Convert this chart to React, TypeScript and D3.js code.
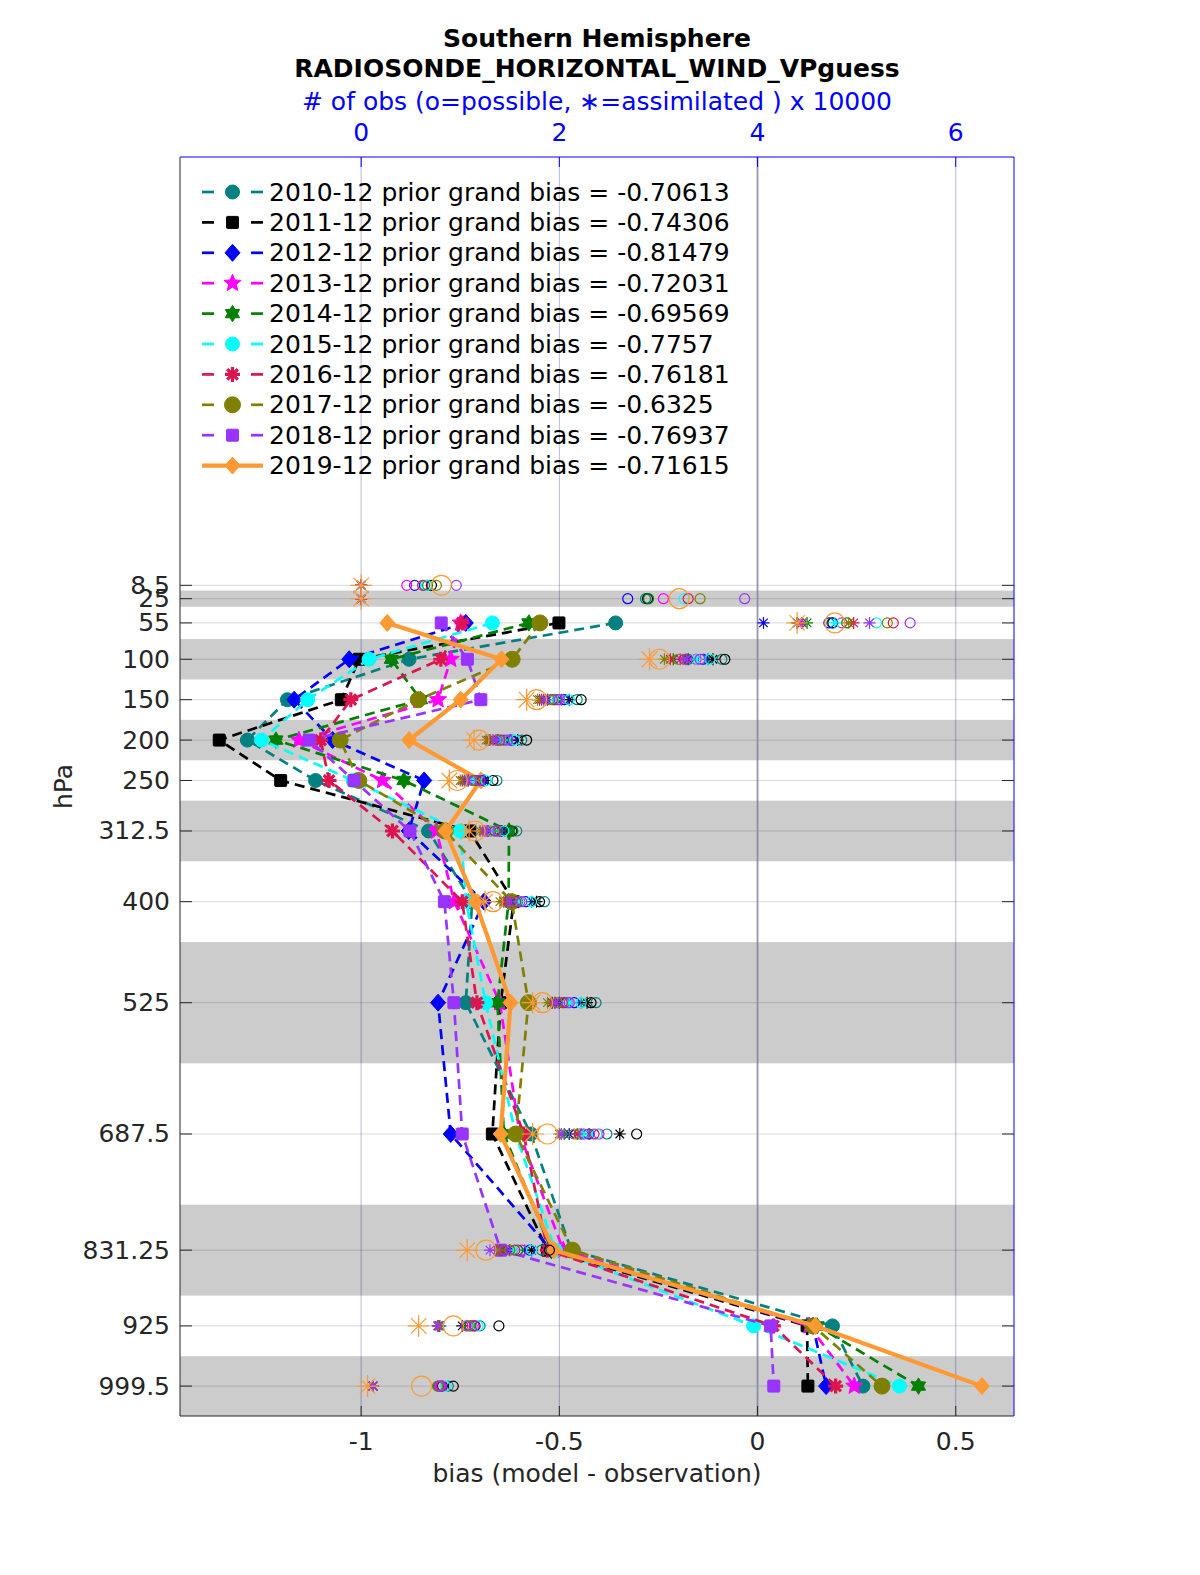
import * as d3 from "d3";

// pressure levels (hPa) and layer edges
const levels = [8.5, 25, 55, 100, 150, 200, 250, 312.5, 400, 525, 687.5, 831.25, 925, 999.5];
const levelLabels = ["8.5", "25", "55", "100", "150", "200", "250", "312.5", "400", "525", "687.5", "831.25", "925", "999.5"];
const layerEdges = [2, 15, 35, 75, 125, 175, 225, 275, 350, 450, 600, 775, 887.5, 962.5, 1036.5];
const biasTicks = [-1, -0.5, 0, 0.5];
const obsTicks = [0, 2, 4, 6];

const years = ["2010-12", "2011-12", "2012-12", "2013-12", "2014-12", "2015-12", "2016-12", "2017-12", "2018-12", "2019-12"];
const grandBias = ["-0.70613", "-0.74306", "-0.81479", "-0.72031", "-0.69569", "-0.7757", "-0.76181", "-0.6325", "-0.76937", "-0.71615"];
const colors = ["#008080", "#000000", "#0000ff", "#ff00ff", "#008000", "#00ffff", "#dc1450", "#808000", "#9933ff", "#ff9933"];
const markers = ["circle", "square", "diamond", "pentagram", "hexagram", "circle", "asterisk", "bigcircle", "square", "diamond"];

// bias (model - observation) per level; NaN where nothing assimilated
const bias2010 = [NaN, NaN, -0.358, -0.879, -1.186, -1.287, -1.115, -0.83, -0.72, -0.736, -0.572, -0.47, 0.189, 0.266];
const bias2011 = [NaN, NaN, -0.501, -1.005, -1.05, -1.358, -1.203, -0.726, -0.615, -0.648, -0.669, -0.53, 0.125, 0.127];
const bias2012 = [NaN, NaN, -0.736, -1.03, -1.169, -1.072, -0.841, -0.88, -0.69, -0.806, -0.774, -0.52, 0.14, 0.173];
const bias2013 = [NaN, NaN, -0.749, -0.774, -0.806, -1.157, -0.946, -0.81, -0.765, -0.65, -0.6, -0.49, 0.13, 0.244];
const bias2014 = [NaN, NaN, -0.577, -0.924, -0.85, -1.215, -0.892, -0.627, -0.628, -0.656, -0.64, -0.52, 0.15, 0.406];
const bias2015 = [NaN, NaN, -0.669, -0.98, -1.135, -1.251, -1.02, -0.75, -0.735, -0.686, -0.61, -0.51, -0.01, 0.358];
const bias2016 = [NaN, NaN, -0.745, -0.799, -1.026, -1.102, -1.081, -0.921, -0.745, -0.708, -0.59, -0.53, 0.04, 0.197];
const bias2017 = [NaN, NaN, -0.549, -0.619, -0.856, -1.053, -1.006, -0.788, -0.62, -0.578, -0.61, -0.467, 0.14, 0.314];
const bias2018 = [NaN, NaN, -0.798, -0.732, -0.698, -1.131, -1.018, -0.877, -0.79, -0.766, -0.745, -0.648, 0.033, 0.041];
const bias2019 = [NaN, NaN, -0.934, -0.646, -0.749, -0.879, -0.698, -0.787, -0.712, -0.623, -0.648, -0.514, 0.146, 0.566];

// # of obs possible (x 10000)
const poss2010 = [0.64, 2.87, 4.75, 3.64, 2.18, 1.62, 1.37, 1.57, 1.85, 2.37, 2.48, 1.82, 1.2, 0.88];
const poss2011 = [0.71, 2.89, 4.76, 3.67, 2.22, 1.67, 1.33, 1.52, 1.8, 2.32, 2.78, 1.9, 1.39, 0.93];
const poss2012 = [0.54, 2.69, 4.72, 3.45, 2.05, 1.52, 1.22, 1.4, 1.66, 2.15, 2.3, 1.7, 1.15, 0.82];
const poss2013 = [0.46, 3.05, 4.85, 3.38, 1.98, 1.45, 1.18, 1.36, 1.6, 2.08, 2.4, 1.62, 1.12, 0.8];
const poss2014 = [0.67, 2.9, 4.9, 3.3, 1.95, 1.42, 1.16, 1.53, 1.58, 2.05, 2.2, 1.58, 1.1, 0.78];
const poss2015 = [0.66, 3.26, 5.2, 3.52, 2.1, 1.55, 1.26, 1.44, 1.72, 2.22, 2.38, 1.72, 1.18, 0.85];
const poss2016 = [0.62, 3.3, 5.37, 3.26, 1.93, 1.4, 1.14, 1.35, 1.56, 2.03, 2.35, 1.55, 1.14, 0.81];
const poss2017 = [0.76, 3.42, 5.31, 3.2, 1.9, 1.37, 1.12, 1.3, 1.52, 1.98, 2.15, 1.5, 1.08, 0.77];
const poss2018 = [0.96, 3.87, 5.54, 3.42, 2.0, 1.48, 1.2, 1.38, 1.62, 2.1, 2.25, 1.45, 1.06, 0.79];
const poss2019 = [0.81, 3.21, 4.78, 3.01, 1.77, 1.19, 0.97, 1.15, 1.33, 1.83, 1.88, 1.26, 0.93, 0.61];

// # of obs assimilated (x 10000)
const assim2010 = [0, 0, 4.45, 3.5, 2.02, 1.5, 1.25, 1.45, 1.72, 2.22, 2.3, 1.65, 0.8, 0.12];
const assim2011 = [0, 0, 4.4, 3.55, 2.1, 1.58, 1.24, 1.42, 1.77, 2.28, 2.61, 1.72, 1.02, 0.12];
const assim2012 = [0, 0, 4.06, 3.3, 1.88, 1.38, 1.08, 1.28, 1.52, 2.0, 2.1, 1.5, 0.79, 0.12];
const assim2013 = [0, 0, 4.45, 3.22, 1.84, 1.33, 1.06, 1.24, 1.48, 1.95, 2.22, 1.45, 0.78, 0.12];
const assim2014 = [0, 0, 4.5, 3.15, 1.82, 1.3, 1.04, 1.4, 1.46, 1.93, 2.05, 1.42, 0.78, 0.12];
const assim2015 = [0, 0, 4.78, 3.38, 1.95, 1.42, 1.13, 1.32, 1.6, 2.1, 2.24, 1.55, 0.8, 0.12];
const assim2016 = [0, 0, 4.97, 3.12, 1.8, 1.28, 1.02, 1.23, 1.44, 1.92, 2.18, 1.4, 0.79, 0.12];
const assim2017 = [0, 0, 4.92, 3.06, 1.78, 1.26, 1.0, 1.2, 1.4, 1.88, 2.0, 1.38, 0.78, 0.12];
const assim2018 = [0, 0, 5.13, 3.28, 1.86, 1.36, 1.08, 1.26, 1.5, 1.96, 2.02, 1.3, 0.77, 0.12];
const assim2019 = [0, 0, 4.4, 2.91, 1.67, 1.14, 0.89, 1.09, 1.25, 1.73, 1.73, 1.07, 0.58, 0.065];

const biasAll = [bias2010, bias2011, bias2012, bias2013, bias2014, bias2015, bias2016, bias2017, bias2018, bias2019];
const possAll = [poss2010, poss2011, poss2012, poss2013, poss2014, poss2015, poss2016, poss2017, poss2018, poss2019];
const assimAll = [assim2010, assim2011, assim2012, assim2013, assim2014, assim2015, assim2016, assim2017, assim2018, assim2019];

const W = 1200;
const H = 1575;
const left = 180, right = 1014, top = 157, bottom = 1416;
const FONT = "DejaVu Sans, Liberation Sans, sans-serif";
const FS = 25;
const TICK = "#262626";

const x = d3.scaleLinear().domain([-1.457, 0.647]).range([left, right]);
const xObs = d3.scaleLinear().domain([4 * (-1.457 + 1), 4 * (0.647 + 1)]).range([left, right]);
const y = d3.scaleLinear().domain([-521.6, 1036.5]).range([top, bottom]);

function starPath(n: number, ro: number, ri: number) {
  const pts: string[] = [];
  for (let i = 0; i < 2 * n; i++) {
    const a = -Math.PI / 2 + (i * Math.PI) / n;
    const r = i % 2 ? ri : ro;
    pts.push(`${(r * Math.cos(a)).toFixed(2)},${(r * Math.sin(a)).toFixed(2)}`);
  }
  return "M" + pts.join("L") + "Z";
}

function asteriskPath(r: number) {
  const d = r * Math.SQRT1_2;
  return `M${-r},0L${r},0M0,${-r}L0,${r}M${-d},${-d}L${d},${d}M${-d},${d}L${d},${-d}`;
}

function Marker({ kind, color, cx, cy }: { kind: string; color: string; cx: number; cy: number }) {
  const t = `translate(${cx},${cy})`;
  if (kind === "circle") return <circle cx={cx} cy={cy} r={7} fill={color} stroke={color} />;
  if (kind === "bigcircle") return <circle cx={cx} cy={cy} r={8} fill={color} stroke={color} />;
  if (kind === "square") return <rect x={cx - 6} y={cy - 6} width={12} height={12} rx={1} fill={color} stroke={color} />;
  if (kind === "diamond")
    return <path transform={t} d="M0,-8.5L7.5,0L0,8.5L-7.5,0Z" fill={color} stroke={color} />;
  if (kind === "pentagram") return <path transform={t} d={starPath(5, 9, 4)} fill={color} stroke={color} />;
  if (kind === "hexagram") return <path transform={t} d={starPath(6, 8.2, 4.9)} fill={color} stroke={color} />;
  return <path transform={t} d={asteriskPath(7.5)} fill="none" stroke={color} strokeWidth={3.2} />;
}

export default function App() {
  const line = d3
    .line<[number, number]>()
    .defined((d) => !isNaN(d[0]))
    .x((d) => x(d[0]))
    .y((d) => y(d[1]));

  const plotH = bottom - top;

  return (
    <svg
      width={W}
      height={H}
      style={{ position: "absolute", left: 0, top: 0, background: "#fff" }}
      fontFamily={FONT}
    >
      <rect x={0} y={0} width={W} height={H} fill="#fff" />
      {/* alternating layer shading */}
      {levels.map((lv, i) =>
        i % 2 === 1 ? (
          <rect
            key={"band" + i}
            x={left}
            width={right - left}
            y={y(layerEdges[i])}
            height={y(layerEdges[i + 1]) - y(layerEdges[i])}
            fill="#cccccc"
          />
        ) : null
      )}
      {/* grid */}
      {levels.map((lv, i) => (
        <line key={"hg" + i} x1={left} x2={right} y1={y(lv)} y2={y(lv)} stroke="#000" strokeOpacity={0.15} />
      ))}
      {biasTicks.map((t) => (
        <g key={"vg" + t}>
          <line x1={x(t)} x2={x(t)} y1={top} y2={bottom} stroke="#000" strokeOpacity={0.15} />
          <line x1={x(t)} x2={x(t)} y1={top} y2={bottom} stroke="#0000ff" strokeOpacity={0.15} />
        </g>
      ))}
      <line x1={x(0)} x2={x(0)} y1={top} y2={bottom} stroke="#8888a0" strokeOpacity={0.7} strokeWidth={2} />

      {/* bias profiles */}
      {biasAll.map((b, k) => {
        const pts: [number, number][] = b.map((v, i) => [v, levels[i]]);
        return (
          <g key={"s" + k}>
            <path
              d={line(pts) || ""}
              fill="none"
              stroke={colors[k]}
              strokeWidth={k === 9 ? 4.2 : 2.7}
              strokeDasharray={k === 9 ? undefined : "10,6"}
            />
            {pts
              .filter((p) => !isNaN(p[0]))
              .map((p, i) => (
                <Marker key={i} kind={markers[k]} color={colors[k]} cx={x(p[0])} cy={y(p[1])} />
              ))}
          </g>
        );
      })}

      {/* obs counts: o = possible, * = assimilated */}
      {possAll.map((p, k) => (
        <g key={"o" + k}>
          {p.map((v, i) => (
            <circle
              key={"c" + i}
              cx={xObs(v)}
              cy={y(levels[i])}
              r={k === 9 ? 10 : 5}
              fill="none"
              stroke={colors[k]}
              strokeWidth={1.2}
            />
          ))}
          {assimAll[k].map((v, i) => (
            <path
              key={"a" + i}
              transform={`translate(${xObs(v)},${y(levels[i])})`}
              d={asteriskPath(k === 9 ? 11 : 6)}
              fill="none"
              stroke={colors[k]}
              strokeWidth={1.2}
            />
          ))}
        </g>
      ))}

      {/* legend */}
      {years.map((yr, k) => {
        const ly = 192 + k * 30.4;
        return (
          <g key={"lg" + k}>
            {k === 9 ? (
              <line x1={202} x2={263} y1={ly} y2={ly} stroke={colors[k]} strokeWidth={4.2} />
            ) : (
              <>
                <line x1={202} x2={214} y1={ly} y2={ly} stroke={colors[k]} strokeWidth={2.7} />
                <line x1={251} x2={263} y1={ly} y2={ly} stroke={colors[k]} strokeWidth={2.7} />
              </>
            )}
            <Marker kind={markers[k]} color={colors[k]} cx={232.5} cy={ly} />
            <text x={269} y={ly} dominantBaseline="central" fontSize={FS} fill="#000">
              {`${yr} prior grand bias = ${grandBias[k]}`}
            </text>
          </g>
        );
      })}

      {/* axes frame and ticks */}
      <line x1={left} x2={left} y1={top} y2={bottom} stroke={TICK} />
      <line x1={left} x2={right} y1={bottom} y2={bottom} stroke={TICK} />
      <line x1={left} x2={right} y1={top} y2={top} stroke="#0000ff" />
      <line x1={right} x2={right} y1={top} y2={bottom} stroke="#0000ff" />
      {levels.map((lv, i) => (
        <g key={"yt" + i}>
          <line x1={left} x2={left + 12} y1={y(lv)} y2={y(lv)} stroke={TICK} />
          <line x1={right - 12} x2={right} y1={y(lv)} y2={y(lv)} stroke={TICK} />
          <text x={170} y={y(lv)} textAnchor="end" dominantBaseline="central" fontSize={FS} fill={TICK}>
            {levelLabels[i]}
          </text>
        </g>
      ))}
      {biasTicks.map((t) => (
        <g key={"xt" + t}>
          <line x1={x(t)} x2={x(t)} y1={bottom} y2={bottom - 10} stroke={TICK} />
          <text x={x(t)} y={1441} textAnchor="middle" dominantBaseline="central" fontSize={FS} fill={TICK}>
            {String(t)}
          </text>
        </g>
      ))}
      {obsTicks.map((t) => (
        <g key={"ot" + t}>
          <line x1={xObs(t)} x2={xObs(t)} y1={top} y2={top + 10} stroke="#0000ff" />
          <text x={xObs(t)} y={132} textAnchor="middle" dominantBaseline="central" fontSize={FS} fill="#0000ff">
            {String(t)}
          </text>
        </g>
      ))}

      {/* titles and labels */}
      <text x={(left + right) / 2} y={38} textAnchor="middle" dominantBaseline="central" fontSize={FS} fontWeight="bold" fill="#000">
        Southern Hemisphere
      </text>
      <text x={(left + right) / 2} y={68} textAnchor="middle" dominantBaseline="central" fontSize={FS} fontWeight="bold" fill="#000">
        RADIOSONDE_HORIZONTAL_WIND_VPguess
      </text>
      <text x={(left + right) / 2} y={101} textAnchor="middle" dominantBaseline="central" fontSize={FS} fill="#0000ff">
        # of obs (o=possible, ∗=assimilated ) x 10000
      </text>
      <text x={(left + right) / 2} y={1473} textAnchor="middle" dominantBaseline="central" fontSize={FS} fill={TICK}>
        bias (model - observation)
      </text>
      <text
        transform={`translate(63,${top + plotH / 2}) rotate(-90)`}
        textAnchor="middle"
        dominantBaseline="central"
        fontSize={FS}
        fill={TICK}
      >
        hPa
      </text>
    </svg>
  );
}
